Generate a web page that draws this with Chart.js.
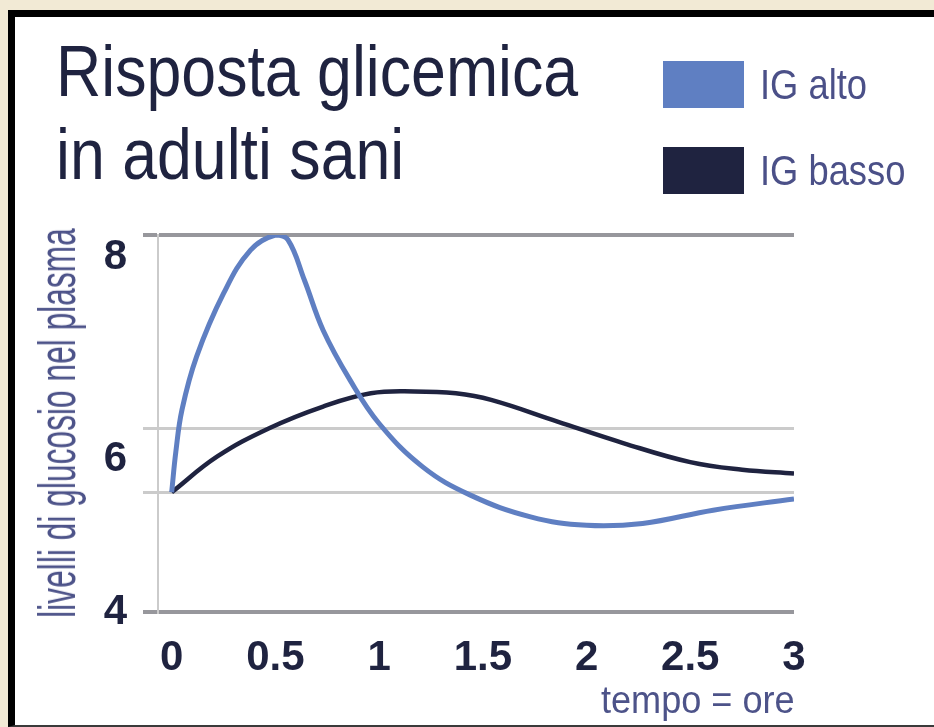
<!DOCTYPE html>
<html>
<head>
<meta charset="utf-8">
<script src="https://cdn.jsdelivr.net/npm/chart.js@4.4.0/dist/chart.umd.min.js"></script>
<style>
    body {
        margin: 0;
        width: 934px;
        height: 727px;
        overflow: hidden;
        position: relative;
        background: #f2ead5;
        font-family: "Liberation Sans", Arial, sans-serif;
    }
    #frame {
        position: absolute;
        left: 8px;
        top: 10px;
        right: 0;
        bottom: 0;
        background: #fff;
        border-left: 7px solid #000;
        border-top: 7px solid #000;
        border-bottom: 2px solid #3a3a3a;
    }
    #chart {
        position: absolute;
        left: 0;
        top: 0;
    }
    .txt {
        position: absolute;
        white-space: nowrap;
        transform-origin: left top;
    }
    .swatch {
        position: absolute;
        width: 81px;
        height: 47px;
    }
</style>
</head>
<body>
<div id="frame"></div>
<canvas id="chart" width="934" height="727"></canvas>

<div class="txt" id="title" style="left:56px; top:30px; font-size:72px; line-height:83px; color:#1f2340; transform:scaleX(0.87);"></div>
<div id="legend"></div>
<div class="txt" id="yTitle" style="left:57px; top:423px; font-size:52px; line-height:52px; color:#4d5389; transform-origin:center; transform:translate(-50%, -50%) rotate(-90deg) scaleX(0.61);"></div>
<div class="txt" id="xTitle" style="left:601px; top:681px; font-size:38px; line-height:38px; color:#4d5389; transform:scaleX(0.95);"></div>

<script>
    const titleLines = ["Risposta glicemica", "in adulti sani"];
    const xTitle = "tempo = ore";
    const yTitle = "livelli di glucosio nel plasma";

    // tempo (ore)
    const timeTicks = [0, 0.5, 1, 1.5, 2, 2.5, 3];
    const timeLabels = ["0", "0.5", "1", "1.5", "2", "2.5", "3"];

    // y labels sit a bit off the grid lines in the original
    const glucoseLabelValues = [7.76, 5.62, 4];
    const glucoseLabels = ["8", "6", "4"];
    const gridValues = [4, 5.27, 5.95, 8];

    const altoTime = [0, 0.02, 0.05, 0.12, 0.25, 0.38, 0.5, 0.56, 0.64, 0.73, 0.86, 1.0, 1.21, 1.44, 1.73, 2.0, 2.27, 2.61, 3.0];
    const altoLevel = [5.27, 5.7, 6.15, 6.71, 7.38, 7.84, 8.0, 7.95, 7.52, 6.99, 6.46, 6.0, 5.54, 5.24, 5.01, 4.92, 4.94, 5.08, 5.20];

    const bassoTime = [0, 0.22, 0.47, 0.73, 0.96, 1.17, 1.37, 1.54, 1.86, 2.18, 2.5, 2.75, 3.0];
    const bassoLevel = [5.27, 5.65, 5.95, 6.18, 6.32, 6.34, 6.32, 6.25, 6.02, 5.79, 5.59, 5.51, 5.47];

    const toPoints = (xs, ys) => xs.map((x, i) => ({ x: x, y: ys[i] }));

    const datasets = [{
        label: "IG alto",
        data: toPoints(altoTime, altoLevel),
        borderColor: "#5f7fc2",
        backgroundColor: "#5f7fc2",
        borderWidth: 5
    }, {
        label: "IG basso",
        data: toPoints(bassoTime, bassoLevel),
        borderColor: "#1f2340",
        backgroundColor: "#1f2340",
        borderWidth: 4.5
    }];

    const tickFont = { family: "Liberation Sans", size: 42, weight: "bold" };

    new Chart(document.getElementById("chart"), {
        type: "line",
        data: { datasets: datasets },
        options: {
            responsive: false,
            animation: false,
            layout: {
                padding: { top: 235, left: 103, right: 140, bottom: 55 }
            },
            elements: {
                point: { radius: 0 },
                line: { tension: 0.4, capBezierPoints: true }
            },
            plugins: {
                legend: { display: false },
                tooltip: { enabled: false }
            },
            scales: {
                x: {
                    type: "linear",
                    position: "bottom",
                    min: -0.066,
                    max: 3,
                    grid: { display: false, drawTicks: false },
                    border: { display: false },
                    ticks: {
                        color: "#1f2340",
                        font: tickFont,
                        padding: 21,
                        autoSkip: false,
                        maxRotation: 0,
                        callback: (value, index) => timeLabels[index]
                    },
                    afterBuildTicks: scale => {
                        scale.ticks = timeTicks.map(v => ({ value: v }));
                    },
                    afterFit: scale => {
                        scale.height = 60;
                    }
                },
                y: {
                    position: "left",
                    weight: 0,
                    min: 4,
                    max: 8,
                    ticks: { display: false },
                    grid: {
                        drawTicks: true,
                        tickLength: 15,
                        color: ctx => (ctx.tick && (ctx.tick.value === 4 || ctx.tick.value === 8)) ? "#97979c" : "#cbcbcb",
                        lineWidth: ctx => (ctx.tick && (ctx.tick.value === 4 || ctx.tick.value === 8)) ? 4 : 3
                    },
                    border: { display: true, color: "#cbcbcb", width: 2 },
                    afterBuildTicks: scale => {
                        scale.ticks = gridValues.map(v => ({ value: v }));
                    },
                    afterFit: scale => {
                        scale.width = 15;
                    }
                },
                yLabel: {
                    position: "left",
                    weight: 1,
                    min: 4,
                    max: 8,
                    grid: { display: false, drawTicks: false },
                    border: { display: false },
                    ticks: {
                        color: "#1f2340",
                        font: tickFont,
                        padding: 16,
                        autoSkip: false,
                        callback: (value, index) => glucoseLabels[index]
                    },
                    afterBuildTicks: scale => {
                        scale.ticks = glucoseLabelValues.map(v => ({ value: v }));
                    },
                    afterFit: scale => {
                        scale.width = 40;
                    }
                }
            }
        }
    });

    // title, legend and axis titles as html, the text is squeezed like in the original
    document.getElementById("title").innerHTML = titleLines.join("<br>");
    document.getElementById("yTitle").textContent = yTitle;
    document.getElementById("xTitle").textContent = xTitle;

    const legend = document.getElementById("legend");
    const legendTops = [61, 147];
    datasets.forEach((ds, i) => {
        const box = document.createElement("div");
        box.className = "swatch";
        box.style.left = "663px";
        box.style.top = legendTops[i] + "px";
        box.style.background = ds.borderColor;
        legend.appendChild(box);

        const label = document.createElement("div");
        label.className = "txt";
        label.textContent = ds.label;
        label.style.cssText = "left:760px; top:" + (legendTops[i] + 2) + "px; font-size:43px; line-height:43px; color:#4b5088; transform:scaleX(0.845);";
        legend.appendChild(label);
    });
</script>
</body>
</html>
